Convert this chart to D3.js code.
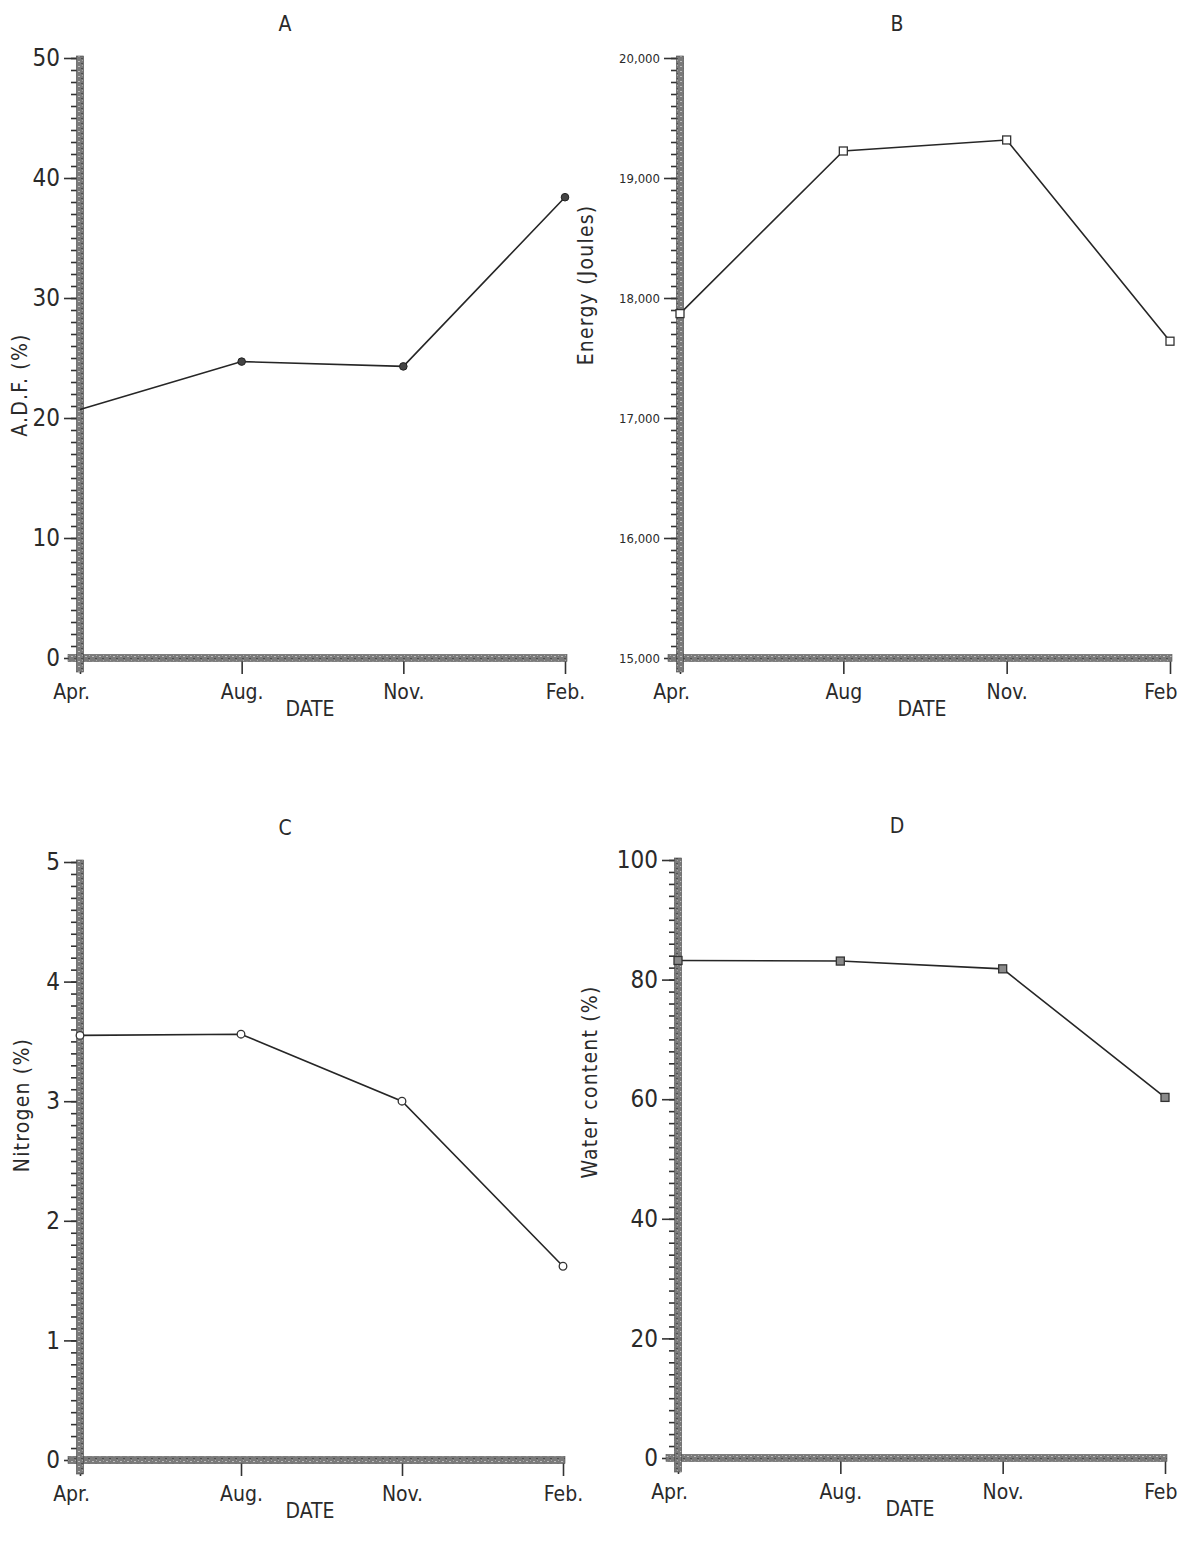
<!DOCTYPE html>
<html>
<head>
<meta charset="utf-8">
<script src="https://cdn.jsdelivr.net/npm/d3@7.9.0/dist/d3.min.js"></script>
<style>
  body { margin: 0; background: #fff; }
  svg text { font-family: "DejaVu Sans", sans-serif; font-stretch: condensed; fill: #2a2a2a; }
</style>
</head>
<body>
<div id="chart"></div>
<script>
// values
const dates = ['Apr', 'Aug', 'Nov', 'Feb'];

const adfLabels = ['Apr.', 'Aug.', 'Nov.', 'Feb.'];
const energyLabels = ['Apr.', 'Aug', 'Nov.', 'Feb'];
const nitrogenLabels = ['Apr.', 'Aug.', 'Nov.', 'Feb.'];
const waterLabels = ['Apr.', 'Aug.', 'Nov.', 'Feb'];

const adfValues = [20.7, 24.7, 24.3, 38.4];
const energyValues = [17870, 19225, 19317, 17640];
const nitrogenValues = [3.55, 3.56, 3.0, 1.62];
const waterValues = [83.2, 83.1, 81.8, 60.3];

const adfTicks = [0, 10, 20, 30, 40, 50];
const energyTicks = [15000, 16000, 17000, 18000, 19000, 20000];
const nitrogenTicks = [0, 1, 2, 3, 4, 5];
const waterTicks = [0, 20, 40, 60, 80, 100];

const width = 1181, height = 1549;

const svg = d3.select('#chart').append('svg')
  .attr('width', width)
  .attr('height', height);

// mottled texture for the heavy axis bars
const defs = svg.append('defs');
const pat = defs.append('pattern')
  .attr('id', 'grain')
  .attr('width', 7).attr('height', 5)
  .attr('patternUnits', 'userSpaceOnUse');
pat.append('rect').attr('width', 7).attr('height', 5).attr('fill', '#7a7a7a');
pat.append('rect').attr('x', 1).attr('y', 1).attr('width', 2).attr('height', 1).attr('fill', '#bdbdbd');
pat.append('rect').attr('x', 4).attr('y', 3).attr('width', 2).attr('height', 1).attr('fill', '#4e4e4e');
pat.append('rect').attr('x', 5).attr('y', 0).attr('width', 1).attr('height', 1).attr('fill', '#a8a8a8');

const panels = [
  { title: 'A', ylabel: 'A.D.F. (%)', values: adfValues, labels: adfLabels, ticks: adfTicks,
    minorStep: 1, fmt: d => d, tickFont: 24, left: 80, right: 565, top: 58, bottom: 658,
    titleX: 285, dateX: 310, ylabelX: 27, ylabelY: 385, marker: 'dot', lastEnd: false },
  { title: 'B', ylabel: 'Energy (Joules)', values: energyValues, labels: energyLabels, ticks: energyTicks,
    minorStep: 100, fmt: d3.format(','), tickFont: 13, left: 680, right: 1170, top: 58, bottom: 658,
    titleX: 897, dateX: 922, ylabelX: 593, ylabelY: 285, marker: 'openSquare', lastEnd: true },
  { title: 'C', ylabel: 'Nitrogen (%)', values: nitrogenValues, labels: nitrogenLabels, ticks: nitrogenTicks,
    minorStep: 0.1, fmt: d => d, tickFont: 24, left: 80, right: 563, top: 862, bottom: 1460,
    titleX: 285, dateX: 310, ylabelX: 29, ylabelY: 1105, marker: 'openCircle', lastEnd: false },
  { title: 'D', ylabel: 'Water content (%)', values: waterValues, labels: waterLabels, ticks: waterTicks,
    minorStep: 2, fmt: d => d, tickFont: 24, left: 678, right: 1165, top: 860, bottom: 1458,
    titleX: 897, dateX: 910, ylabelX: 597, ylabelY: 1082, marker: 'filledSquare', lastEnd: true },
];

panels.forEach(drawPanel);

function drawPanel(p) {
  const g = svg.append('g');

  const x = d3.scalePoint().domain(dates).range([p.left, p.right]).padding(0);
  const [lo, hi] = d3.extent(p.ticks);
  const y = d3.scaleLinear().domain([lo, hi]).range([p.bottom, p.top]);

  // minor ticks
  const minor = d3.range(lo, hi + p.minorStep / 2, p.minorStep);
  g.append('g')
    .attr('transform', `translate(${p.left - 3},0)`)
    .call(d3.axisLeft(y).tickValues(minor).tickSize(6).tickFormat(''))
    .call(a => a.select('.domain').remove())
    .call(a => a.selectAll('line').attr('stroke', '#333').attr('stroke-width', 1.6));

  // major ticks and labels
  g.append('g')
    .attr('transform', `translate(${p.left - 3},0)`)
    .call(d3.axisLeft(y).tickValues(p.ticks).tickSize(13).tickPadding(4).tickFormat(p.fmt))
    .call(a => a.select('.domain').remove())
    .call(a => a.selectAll('line').attr('stroke', '#333').attr('stroke-width', 1.6))
    .call(a => a.selectAll('text')
      .attr('font-size', p.tickFont)
      .style('font-family', '"DejaVu Sans", sans-serif')
      .style('font-stretch', 'condensed')
      .attr('fill', '#2a2a2a'));

  // x ticks
  const n = dates.length;
  g.append('g')
    .attr('transform', `translate(0,${p.bottom + 3})`)
    .call(d3.axisBottom(x).tickSize(13).tickPadding(10).tickFormat((d, i) => p.labels[i]))
    .call(a => a.select('.domain').remove())
    .call(a => a.selectAll('line').attr('stroke', '#333').attr('stroke-width', 1.6))
    .call(a => a.selectAll('text')
      .attr('font-size', 21)
      .style('font-family', '"DejaVu Sans", sans-serif')
      .style('font-stretch', 'condensed')
      .attr('fill', '#2a2a2a')
      .attr('dx', (d, i) => i === 0 ? -9 : 0))
    .call(a => {
      if (p.lastEnd) {
        a.selectAll('.tick text').filter((d, i) => i === n - 1)
          .attr('text-anchor', 'end')
          .attr('dx', 1177 - p.right);
      }
    });

  // heavy axis bars
  g.append('rect')
    .attr('x', p.left - 12).attr('y', p.bottom - 3.5)
    .attr('width', p.right - p.left + 14).attr('height', 7)
    .attr('fill', 'url(#grain)').attr('stroke', '#555').attr('stroke-width', 0.6);
  g.append('rect')
    .attr('x', p.left - 3.5).attr('y', p.top - 2)
    .attr('width', 7).attr('height', p.bottom - p.top + 16)
    .attr('fill', 'url(#grain)').attr('stroke', '#444').attr('stroke-width', 0.6);

  // line
  const pts = p.values.map((v, i) => [x(dates[i]), y(v)]);
  g.append('path')
    .datum(pts)
    .attr('d', d3.line())
    .attr('fill', 'none')
    .attr('stroke', '#262626')
    .attr('stroke-width', 1.6);

  // markers
  const m = g.append('g');
  if (p.marker === 'dot') {
    m.selectAll('circle').data(pts.slice(1)).join('circle')
      .attr('cx', d => d[0]).attr('cy', d => d[1]).attr('r', 3.8)
      .attr('fill', '#444').attr('stroke', '#222').attr('stroke-width', 1);
  } else if (p.marker === 'openCircle') {
    m.selectAll('circle').data(pts).join('circle')
      .attr('cx', d => d[0]).attr('cy', d => d[1]).attr('r', 3.8)
      .attr('fill', '#fff').attr('stroke', '#333').attr('stroke-width', 1.3);
  } else {
    const filled = p.marker === 'filledSquare';
    m.selectAll('rect').data(pts).join('rect')
      .attr('x', d => d[0] - 4).attr('y', d => d[1] - 4)
      .attr('width', 8).attr('height', 8)
      .attr('fill', filled ? '#8a8a8a' : '#fff')
      .attr('stroke', '#333').attr('stroke-width', 1.3);
  }

  // panel letter
  g.append('text')
    .attr('x', p.titleX).attr('y', p.top - 27)
    .attr('text-anchor', 'middle').attr('font-size', 21)
    .text(p.title);

  // date label
  g.append('text')
    .attr('x', p.dateX).attr('y', p.bottom + 58)
    .attr('text-anchor', 'middle').attr('font-size', 21)
    .text('DATE');

  // y label
  g.append('text')
    .attr('transform', `translate(${p.ylabelX},${p.ylabelY}) rotate(-90)`)
    .attr('text-anchor', 'middle').attr('font-size', 21)
    .attr('letter-spacing', 1.2)
    .text(p.ylabel);
}
</script>
</body>
</html>
